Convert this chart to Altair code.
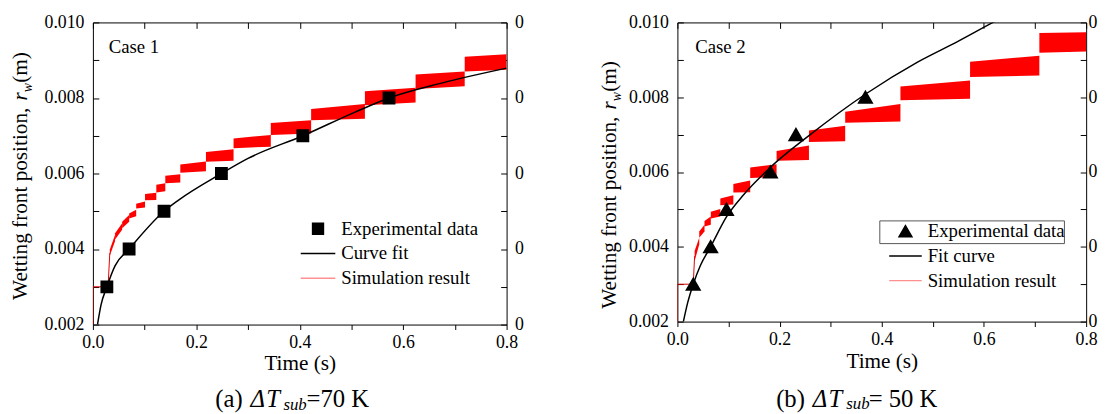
import altair as alt
import pandas as pd

SERIF = "Liberation Serif"

# ---------------- Case 1 (ΔTsub = 70 K) ----------------
exp1_t = [0.027, 0.070, 0.1375, 0.2485, 0.406, 0.5726]
exp1_r = [0.003, 0.004, 0.005, 0.006, 0.007, 0.008]

fit1_t = [0.0089, 0.0157, 0.027, 0.043, 0.070, 0.1375, 0.165, 0.2485, 0.30, 0.406, 0.506, 0.5726, 0.676, 0.80]
fit1_r = [0.0020, 0.00252, 0.0030, 0.00356, 0.0040, 0.0050, 0.00529, 0.0060, 0.0064, 0.0070, 0.00762, 0.0080, 0.0084, 0.00879]

# simulation result: oscillating band, one trapezoid per step
sim1_t0 = [0.0327, 0.0429, 0.0565, 0.0701, 0.0837, 0.1008, 0.1226, 0.140, 0.169, 0.2186, 0.272, 0.344, 0.422, 0.526, 0.624, 0.719]
sim1_t1 = [0.0429, 0.0565, 0.0701, 0.0837, 0.1008, 0.1226, 0.140, 0.169, 0.2186, 0.272, 0.344, 0.422, 0.526, 0.624, 0.719, 0.800]
sim1_lo0 = [0.00382, 0.00425, 0.00455, 0.00481, 0.00507, 0.00529, 0.00550, 0.00574, 0.00602, 0.00631, 0.00667, 0.00702, 0.00741, 0.00781, 0.00824, 0.00870]
sim1_lo1 = [0.00421, 0.00451, 0.00472, 0.00487, 0.00510, 0.00530, 0.00553, 0.00576, 0.00606, 0.00634, 0.00671, 0.00706, 0.00745, 0.00788, 0.00831, 0.00875]
sim1_hi0 = [0.00399, 0.00442, 0.00472, 0.00494, 0.00520, 0.00546, 0.00570, 0.00594, 0.00624, 0.00657, 0.00693, 0.00734, 0.00771, 0.00818, 0.00862, 0.00909]
sim1_hi1 = [0.00438, 0.00468, 0.00490, 0.00504, 0.00526, 0.00549, 0.00574, 0.00598, 0.00632, 0.00664, 0.00702, 0.00741, 0.00784, 0.00827, 0.00870, 0.00916]
thin1_t = [0.0, 0.0, 0.0293, 0.0327]
thin1_r = [0.0020, 0.0030, 0.0030, 0.0039]

# ---------------- Case 2 (ΔTsub = 50 K) ----------------
exp2_t = [0.031, 0.065, 0.096, 0.182, 0.232, 0.368]
exp2_r = [0.003, 0.004, 0.005, 0.006, 0.007, 0.008]

fit2_t = [0.0117, 0.020, 0.031, 0.045, 0.065, 0.096, 0.13, 0.18, 0.26, 0.37, 0.47, 0.55, 0.6176, 0.66]
fit2_r = [0.0020, 0.0025, 0.0030, 0.0035, 0.0040, 0.0048, 0.0054, 0.0061, 0.0070, 0.0081, 0.00894, 0.0095, 0.0100, 0.0103]

sim2_t0 = [0.0337, 0.0427, 0.053, 0.0654, 0.084, 0.1095, 0.1425, 0.1941, 0.2575, 0.3284, 0.4365, 0.5728, 0.7084]
sim2_t1 = [0.0427, 0.053, 0.0654, 0.084, 0.1095, 0.1425, 0.1941, 0.2575, 0.3284, 0.4365, 0.5728, 0.7084, 0.800]
sim2_lo0 = [0.00362, 0.00424, 0.00454, 0.00476, 0.00511, 0.00545, 0.00584, 0.00630, 0.00680, 0.00732, 0.00792, 0.00854, 0.00919]
sim2_lo1 = [0.00406, 0.00441, 0.00459, 0.00481, 0.00513, 0.00546, 0.00586, 0.00632, 0.00682, 0.00735, 0.00796, 0.00858, 0.00922]
sim2_hi0 = [0.00389, 0.00441, 0.00469, 0.00494, 0.00529, 0.00568, 0.00612, 0.00656, 0.00711, 0.00761, 0.00829, 0.00895, 0.00972]
sim2_hi1 = [0.00424, 0.00459, 0.00481, 0.00501, 0.00538, 0.00577, 0.00621, 0.00671, 0.00724, 0.00782, 0.00845, 0.00911, 0.00974]
thin2_t = [0.0, 0.0, 0.031, 0.0337]
thin2_r = [0.0020, 0.0030, 0.0030, 0.00375]

x_ticks = [0.0, 0.1, 0.2, 0.3, 0.4, 0.5, 0.6, 0.7, 0.8]
y_ticks = [0.002, 0.003, 0.004, 0.005, 0.006, 0.007, 0.008, 0.009, 0.010]

series1 = ["Experimental data", "Curve fit", "Simulation result"]
series2 = ["Experimental data", "Fit curve", "Simulation result"]


def bands(t0, t1, lo0, lo1, hi0, hi1):
    rows = []
    for i, (a, b, c, d, e, f) in enumerate(zip(t0, t1, lo0, lo1, hi0, hi1)):
        rows.append({"seg": i, "t": a, "lo": c, "hi": e})
        rows.append({"seg": i, "t": b, "lo": d, "hi": f})
    return pd.DataFrame(rows)


ONE = pd.DataFrame({"k": [0]})

AX = dict(labelFont=SERIF, labelFontSize=18, labelColor="black", tickColor="black",
          tickWidth=1, domain=False, grid=False)


def txt(s, x, y, size, italic=False, angle=0):
    return alt.Chart(ONE).mark_text(
        text=s, font=SERIF, fontSize=size, fontStyle="italic" if italic else "normal",
        angle=angle, align="left", baseline="alphabetic", color="black"
    ).encode(x=alt.value(x), y=alt.value(y))


def panel(W, H, sim_df, thin_df, fit_df, exp_df, series, shape, pt_size, path,
          case_txt, case_xy, ytx, yty0, caption, leg_xy, lab_off, rlab_pad, box=None):
    xs = alt.Scale(domain=[0, 0.8], nice=False, zero=False)
    ys = alt.Scale(domain=[0.002, 0.010], nice=False, zero=False)
    xbottom = alt.Axis(orient="bottom", values=x_ticks, tickSize=5, labelPadding=4,
                       labelExpr="round(datum.value*10) % 2 == 0 ? format(datum.value, '.1f') : ''",
                       title="Time (s)", titlePadding=2, titleFont=SERIF, titleFontSize=21.5,
                       titleFontWeight="normal", titleColor="black", labelFlush=False, **AX)
    yleft = alt.Axis(orient="left", values=y_ticks, tickSize=6, offset=-6, labelPadding=9,
                     labelExpr="round(datum.value*1000) % 2 == 0 ? format(datum.value, '.3f') : ''",
                     title=None, labelFlush=False, **AX)
    xtop = alt.Axis(orient="top", values=x_ticks, tickSize=6, offset=-6, labels=False,
                    title=None, **AX)
    yright = alt.Axis(orient="right", values=y_ticks, tickSize=6, offset=-6, labelPadding=rlab_pad,
                      labelExpr="round(datum.value*1000) % 2 == 0 ? '0' : ''",
                      title=None, labelFlush=False, **AX)

    band = alt.Chart(sim_df).mark_area(color="#ff0000", opacity=1, clip=True).encode(
        x=alt.X("t:Q", scale=xs, axis=xbottom),
        y=alt.Y("lo:Q", scale=ys, axis=yleft),
        y2="hi:Q",
        detail="seg:N",
    )
    thin = alt.Chart(thin_df).mark_line(color="#e00000", strokeWidth=1, clip=True).encode(
        x=alt.X("t:Q", scale=xs, axis=None),
        y=alt.Y("r:Q", scale=ys, axis=None),
        order="i:Q",
    )
    fit = alt.Chart(fit_df).mark_line(color="black", strokeWidth=1.5, clip=True,
                                      interpolate="monotone").encode(
        x=alt.X("t:Q", scale=xs, axis=xtop),
        y=alt.Y("r:Q", scale=ys, axis=yright),
    )
    leg = alt.Legend(orient="none", legendX=leg_xy[0], legendY=leg_xy[1], title=None,
                     labelFont=SERIF, labelFontSize=19, labelColor="black",
                     symbolSize=pt_size, symbolStrokeWidth=1.5, labelOffset=lab_off,
                     rowPadding=5, padding=0, symbolOpacity=1, labelLimit=400)
    pts = alt.Chart(exp_df).mark_point(filled=True, size=pt_size, opacity=1, clip=True).encode(
        x=alt.X("t:Q", scale=xs, axis=None),
        y=alt.Y("r:Q", scale=ys, axis=None),
        shape=alt.Shape("series:N", scale=alt.Scale(domain=series, range=[shape, path, path]), legend=leg),
        fill=alt.Fill("series:N", scale=alt.Scale(domain=series, range=["black", "black", "#ff9090"]), legend=leg),
        stroke=alt.Stroke("series:N", scale=alt.Scale(domain=series, range=["black", "black", "#ff9090"]), legend=leg),
    )

    layers = [band, thin, fit, pts, txt(case_txt, case_xy[0], case_xy[1], 19)]
    # y-axis title with subscript
    layers += [
        txt("Wetting front position, ", ytx, yty0, 21.5, angle=270),
        txt("r", ytx, yty0 - 201.9, 21.5, italic=True, angle=270),
        txt("w", ytx + 5, yty0 - 210.3, 14, italic=True, angle=270),
        txt(" (m)", ytx, yty0 - 219.8, 21.5, angle=270),
    ]
    # caption
    (p0, x0), (pd_, xd), (pt_, xt), (ps, xsb), (pe, xe), yb = caption
    layers += [
        txt(p0, x0, yb, 25),
        txt(pd_, xd, yb, 25, italic=True),
        txt(pt_, xt, yb, 25, italic=True),
        txt(ps, xsb, yb + 3, 17, italic=True),
        txt(pe, xe, yb, 25),
    ]
    if box is not None:
        layers.append(
            alt.Chart(ONE).mark_rect(fill=None, stroke="#555555", strokeWidth=1).encode(
                x=alt.value(box[0]), x2=alt.value(box[1]), y=alt.value(box[2]), y2=alt.value(box[3])
            )
        )
    return alt.layer(*layers).resolve_axis(x="independent", y="independent").properties(width=W, height=H)


sim1 = bands(sim1_t0, sim1_t1, sim1_lo0, sim1_lo1, sim1_hi0, sim1_hi1)
sim2 = bands(sim2_t0, sim2_t1, sim2_lo0, sim2_lo1, sim2_hi0, sim2_hi1)
thin1 = pd.DataFrame({"i": range(len(thin1_t)), "t": thin1_t, "r": thin1_r})
thin2 = pd.DataFrame({"i": range(len(thin2_t)), "t": thin2_t, "r": thin2_r})
fit1 = pd.DataFrame({"t": fit1_t, "r": fit1_r})
fit2 = pd.DataFrame({"t": fit2_t, "r": fit2_r})
exp1 = pd.DataFrame({"t": exp1_t, "r": exp1_r, "series": series1[0]})
exp2 = pd.DataFrame({"t": exp2_t, "r": exp2_r, "series": series2[0]})

left = panel(419, 306, sim1, thin1, fit1, exp1, series1, "square", 121, "M-3.18,0H3.18",
             "Case 1", (16, 31), -66.5, 281,
             (("(a) ", 124), ("Δ", 159.7), ("T", 175.5), ("sub", 193), ("=70 K", 216.3), 390),
             (218.5, 199.5), 14, 8)
right = panel(414, 303, sim2, thin2, fit2, exp2, series2, "triangle-up", 170, "M-2.53,0H2.53",
              "Case 2", (18, 31), -62, 290,
              (("(b) ", 100), ("Δ", 137), ("T", 153), ("sub", 171), ("= 50 K", 193.7), 389),
              (221.5, 202), 13, 2, box=(205, 392, 201, 224))

chart = (
    alt.hconcat(left, right, spacing=75)
    .resolve_scale(shape="independent", fill="independent", stroke="independent")
    .resolve_legend(shape="independent", fill="independent", stroke="independent")
    .properties(padding={"left": 1, "top": 2, "right": 0, "bottom": 0}, background="white")
    .configure_view(stroke="black", strokeWidth=1)
    .configure_axis(labelFont=SERIF, labelFontSize=18, labelColor="black",
                    titleFont=SERIF, titleFontSize=21.5, titleFontWeight="normal", titleColor="black",
                    tickColor="black", tickWidth=1, grid=False)
)

chart.save("out.html", embed_options={"renderer": "svg", "actions": False})
